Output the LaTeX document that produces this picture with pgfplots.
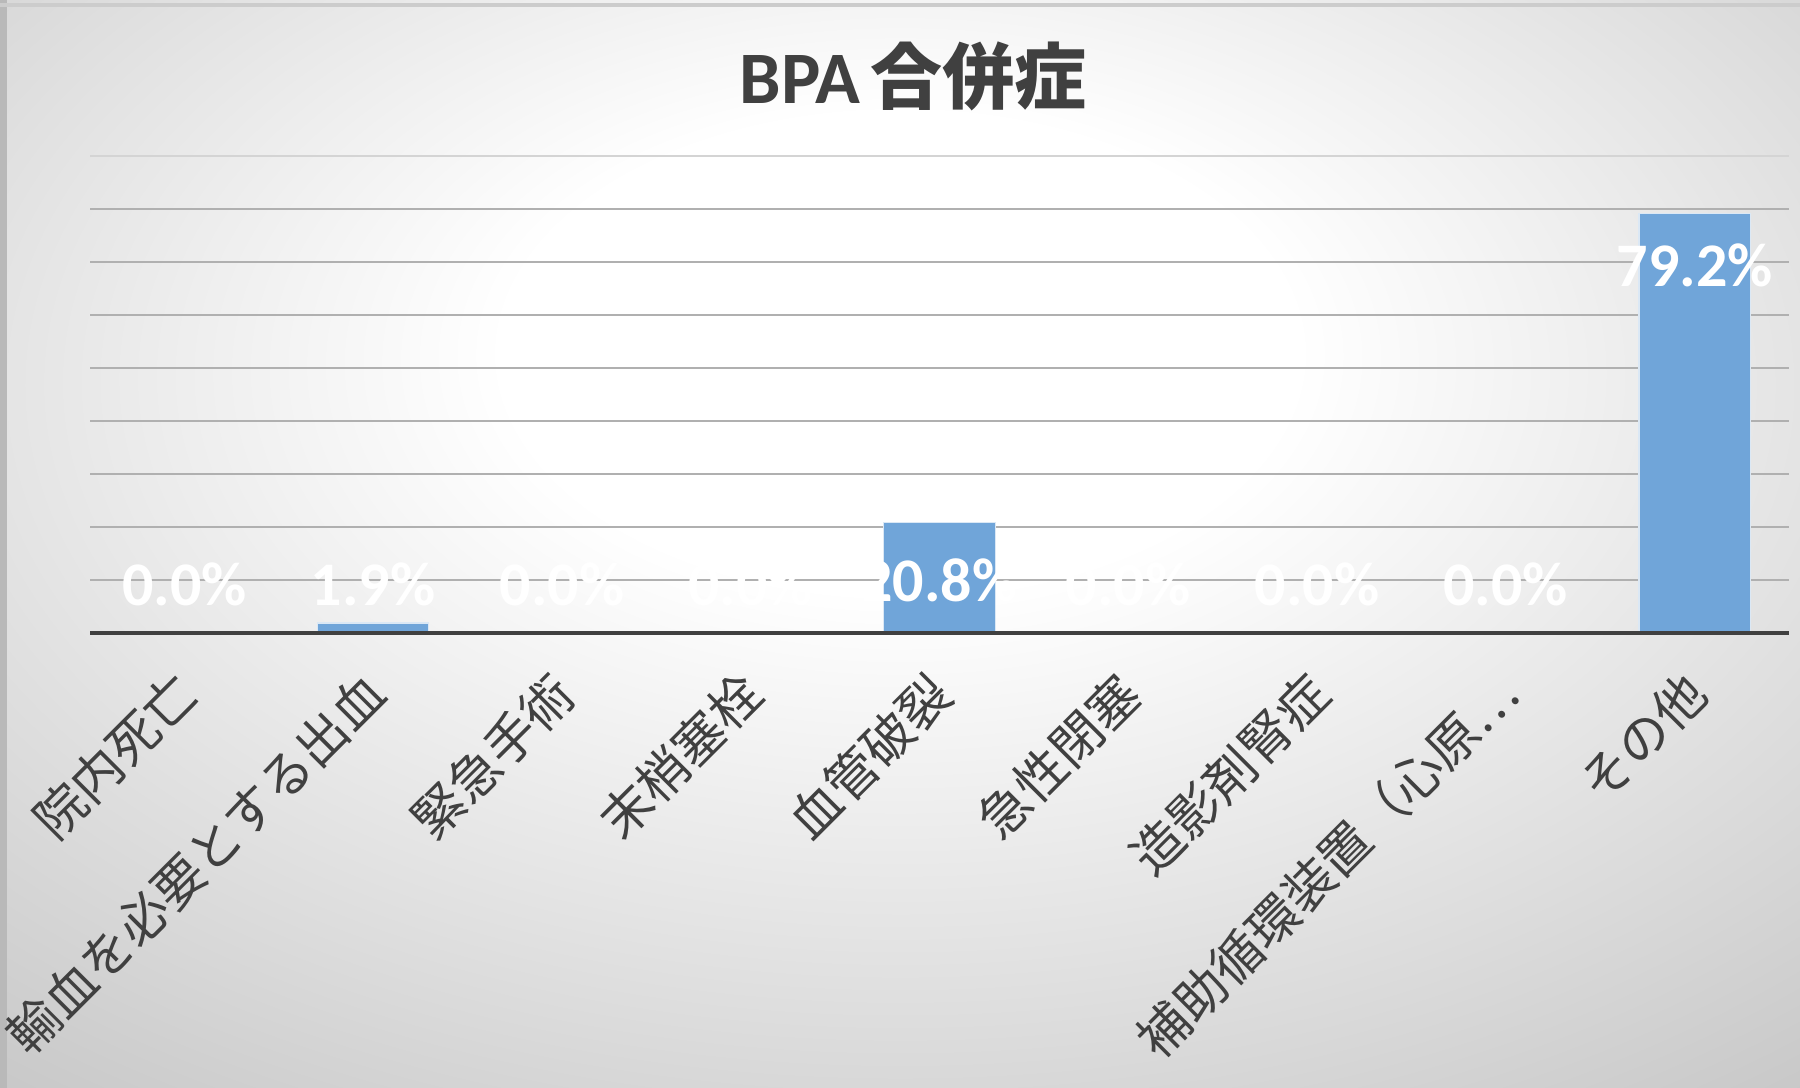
\documentclass[border=0pt]{standalone}
\usepackage{fontspec}
\usepackage{pgfplots}
\pgfplotsset{compat=1.18}
\setmainfont{Noto Sans CJK JP}
\newfontfamily\cjk{Noto Sans CJK JP}
\newfontfamily\carlito{Carlito}
\definecolor{txt}{HTML}{404040}
\definecolor{barblue}{HTML}{70A5D9}
\definecolor{gridc}{HTML}{B0B0B0}
\definecolor{bgout}{HTML}{BABABA}
\pgfdeclareradialshading{bgshade}{\pgfpoint{0bp}{10bp}}{color(0bp)=(white); color(11bp)=(white); color(47bp)=(bgout); color(90bp)=(bgout)}
\begin{document}
\begin{tikzpicture}
\shade[shading=bgshade] (0,0) rectangle (900bp,544bp);
\fill[gray!55] (0,0) rectangle (3.5bp,544bp);
\fill[gray!40] (0,540.5bp) rectangle (900bp,542.5bp);
\node[font=\bfseries, text=txt, anchor=center] at (456.5bp,506bp) {{\carlito\fontsize{37bp}{40bp}\selectfont BPA}\hspace{5bp}{\cjk\fontsize{36bp}{40bp}\selectfont 合併症}};
\begin{axis}[
  at={(45bp,227.5bp)}, anchor=south west,
  scale only axis, width=849.5bp, height=238.5bp,
  xmin=-0.5, xmax=8.5, ymin=0, ymax=90,
  axis line style={draw=none},
  ytick={10,20,...,80}, yticklabels={},
  extra y ticks={90}, extra y tick labels={},
  extra y tick style={grid style={gridc!55!white, line width=0.8bp}},
  ymajorgrids, grid style={gridc, line width=0.8bp},
  major tick length=0pt,
  xtick={0,...,8},
  xticklabels={院内死亡,輸血を必要とする出血,緊急手術,末梢塞栓,血管破裂,急性閉塞,造影剤腎症,補助循環装置（心原…,その他},
  xticklabel style={xshift=-7bp, yshift=-17bp, rotate=45, anchor=north east, inner sep=0pt, text=txt, font=\cjk\fontsize{25.5bp}{27bp}\selectfont},
  clip=false,
]
\addplot[ybar, bar width=0.59, fill=barblue, draw=white!75!barblue, line width=0.6bp] coordinates {(0,0) (1,1.9) (2,0) (3,0) (4,20.8) (5,0) (6,0) (7,0) (8,79.2)};
\draw[txt, line width=1.6bp] (axis cs:-0.5,0) -- (axis cs:8.5,0);
\addplot[draw=none, mark=none, forget plot, point meta=explicit,
  nodes near coords={\pgfmathprintnumber[fixed,fixed zerofill,precision=1,assume math mode=true]{\pgfplotspointmeta}\%},
  every node near coord/.append style={anchor=center, text=white, font=\carlito\bfseries\fontsize{31bp}{33bp}\selectfont}]
  table[x=x, y=y, meta=v] {
x y v
0 9.1 0.0
1 9.1 1.9
2 9.1 0.0
3 9.1 0.0
4 10.0 20.8
5 9.1 0.0
6 9.1 0.0
7 9.1 0.0
8 69.4 79.2
};
\end{axis}
\pgfresetboundingbox
\path[use as bounding box] (0,0) rectangle (900bp,544bp);
\end{tikzpicture}
\end{document}
